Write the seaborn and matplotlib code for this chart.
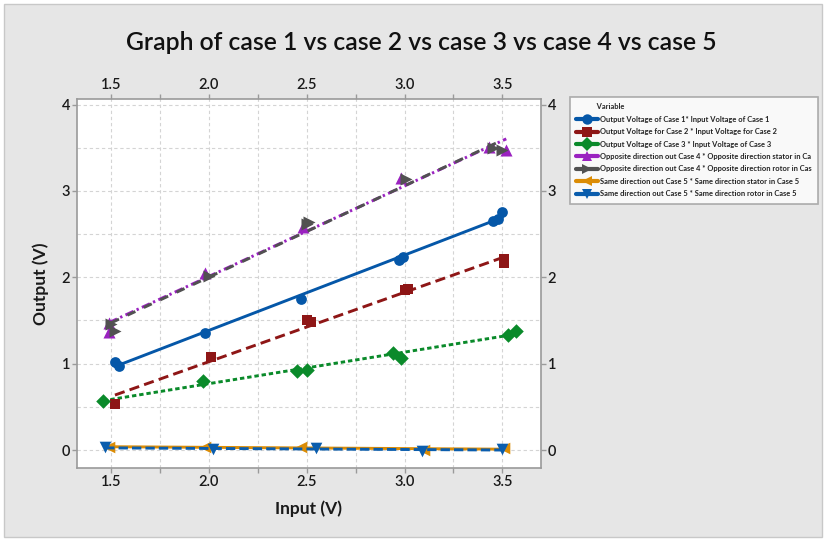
import numpy as np
import pandas as pd
import matplotlib
matplotlib.use("Agg")
import matplotlib.pyplot as plt
import seaborn as sns
from matplotlib.lines import Line2D
from matplotlib.patches import Rectangle
from matplotlib.ticker import MultipleLocator, FixedLocator

# ---------------- data ----------------
case1_x = [1.52, 1.54, 1.98, 2.47, 2.97, 2.99, 3.45, 3.48, 3.50]
case1_y = [1.02, 0.97, 1.36, 1.75, 2.20, 2.24, 2.65, 2.67, 2.75]

case2_x = [1.52, 2.01, 2.50, 2.52, 3.00, 3.02, 3.51, 3.51]
case2_y = [0.53, 1.08, 1.50, 1.48, 1.85, 1.86, 2.21, 2.16]

case3_x = [1.46, 1.97, 2.45, 2.50, 2.94, 2.98, 3.53, 3.57]
case3_y = [0.57, 0.80, 0.92, 0.93, 1.12, 1.07, 1.33, 1.38]

case4s_x = [1.49, 1.49, 1.98, 2.48, 2.98, 3.43, 3.52]
case4s_y = [1.47, 1.37, 2.05, 2.58, 3.15, 3.51, 3.47]

case4r_x = [1.50, 1.52, 2.00, 2.50, 2.51, 3.01, 3.45, 3.50]
case4r_y = [1.46, 1.38, 2.02, 2.62, 2.64, 3.14, 3.50, 3.47]

case5s_x = [1.49, 1.98, 2.47, 3.10, 3.51]
case5s_y = [0.04, 0.03, 0.03, 0.00, 0.02]

case5r_x = [1.47, 2.02, 2.55, 3.09, 3.50]
case5r_y = [0.03, 0.01, 0.02, -0.01, 0.01]

labels = [
    "Output Voltage of Case 1* Input Voltage of Case 1",
    "Output Voltage for Case 2 * Input Voltage for Case 2",
    "Output Voltage of Case 3 * Input Voltage of Case 3",
    "Opposite direction out Case 4 * Opposite direction stator in Ca",
    "Opposite direction out Case 4 * Opposite direction rotor in Cas",
    "Same direction out Case 5 * Same direction stator in Case 5",
    "Same direction out Case 5 * Same direction rotor in Case 5",
]
x_ticks = [1.5, 2.0, 2.5, 3.0, 3.5]
x_tick_labels = ["1.5", "2.0", "2.5", "3.0", "3.5"]
y_ticks = [0, 1, 2, 3, 4]

# ---------------- styles ----------------
series = [
    (case1_x, case1_y, "#0557A8", "o", "-", 60, 3),
    (case2_x, case2_y, "#8E1616", "s", (0, (3.5, 1.8)), 60, 3),
    (case3_x, case3_y, "#0A8A2A", "D", (0, (1.5, 1.0)), 55, 3),
    (case4s_x, case4s_y, "#9A22C0", "^", (0, (3.0, 1.2, 0.8, 1.2)), 75, 4),
    (case4r_x, case4r_y, "#515151", ">", (0, (3.0, 3.2)), 75, 5),
    (case5s_x, case5s_y, "#DB8C05", "<", "-", 70, 3),
    (case5r_x, case5r_y, "#0A5DAD", "v", (0, (3.2, 1.4)), 70, 4),
]

sns.set_theme(style="white")
plt.rcParams["font.family"] = ["Lato", "DejaVu Sans"]

fig = plt.figure(figsize=(8.26, 5.41), dpi=100)
fig.patch.set_facecolor("white")
fig.patches.append(Rectangle((4 / 826, 4 / 541), 818 / 826, 533 / 541,
                             transform=fig.transFigure, facecolor="#E6E6E6",
                             edgecolor="#C8C8C8", lw=1, zorder=-10))

ax = fig.add_axes([77 / 826, (541 - 468) / 541, 463.5 / 826, 369 / 541])
ax.set_facecolor("white")

handles = []
for (xs, ys, col, mk, ls, s, z) in series:
    sns.regplot(x=np.array(xs), y=np.array(ys), ax=ax, ci=None, marker=mk,
                color=col, truncate=True,
                scatter_kws=dict(s=s, alpha=1, linewidths=0, zorder=z + 0.5),
                line_kws=dict(lw=2.1, ls=ls, zorder=z))
    handles.append(Line2D([0], [0], color=col, lw=3, marker=mk, markersize=7.5,
                          markeredgewidth=0))

ax.set_xlim(1.326, 3.695)
ax.set_ylim(-0.208, 4.064)
ax.xaxis.set_major_locator(FixedLocator(x_ticks))
ax.set_xticklabels(x_tick_labels)
ax.xaxis.set_minor_locator(MultipleLocator(0.25))
ax.yaxis.set_major_locator(FixedLocator(y_ticks))
ax.yaxis.set_minor_locator(MultipleLocator(0.5))

ax.grid(True, which="both", color="#D4D4D4", ls=(0, (3, 2.5)), lw=0.8)
ax.set_axisbelow(True)

for sp in ax.spines.values():
    sp.set_color("#9A9A9A")
    sp.set_linewidth(1.2)

ax.tick_params(axis="both", which="major", direction="out", length=3.5, width=1,
               color="#9A9A9A", labelsize=10.5, labelcolor="#1A1A1A",
               top=True, right=True, labeltop=True, labelright=True,
               bottom=True, left=True, pad=1.5)
ax.tick_params(axis="x", which="minor", direction="out", length=3.5, width=1,
               color="#9A9A9A", top=True, bottom=True)
ax.tick_params(axis="y", which="minor", length=0)

for tk in ax.xaxis.get_major_ticks() + ax.yaxis.get_major_ticks():
    tk.label1.set_fontweight("semibold")
    tk.label2.set_fontweight("semibold")

ax.set_xlabel("Input (V)", fontsize=12.5, fontweight="bold", color="#1A1A1A", labelpad=8)
ax.set_ylabel("Output (V)", fontsize=12.5, fontweight="bold", color="#1A1A1A", labelpad=9)

fig.text(421 / 826, 1 - 42 / 541, "Graph of case 1 vs case 2 vs case 3 vs case 4 vs case 5",
         ha="center", va="center", fontsize=17.8, fontweight="semibold", color="#111111")

leg = fig.legend(handles, labels, title="           Variable", loc="upper left",
                 bbox_to_anchor=(570 / 826, 1 - 97 / 541), frameon=True,
                 fontsize=5.4, title_fontsize=5.4, handlelength=2.9,
                 handletextpad=0.25, labelspacing=0.72, borderpad=0.85,
                 borderaxespad=0, alignment="left", fancybox=False)
leg.get_frame().set_edgecolor("#9A9A9A")
leg.get_frame().set_linewidth(1.2)
leg.get_frame().set_facecolor("white")
for t in leg.get_texts():
    t.set_fontweight("bold")
    t.set_color("#222222")
leg.get_title().set_fontweight("bold")

fig.savefig("out.png", dpi=100, facecolor=fig.get_facecolor())
